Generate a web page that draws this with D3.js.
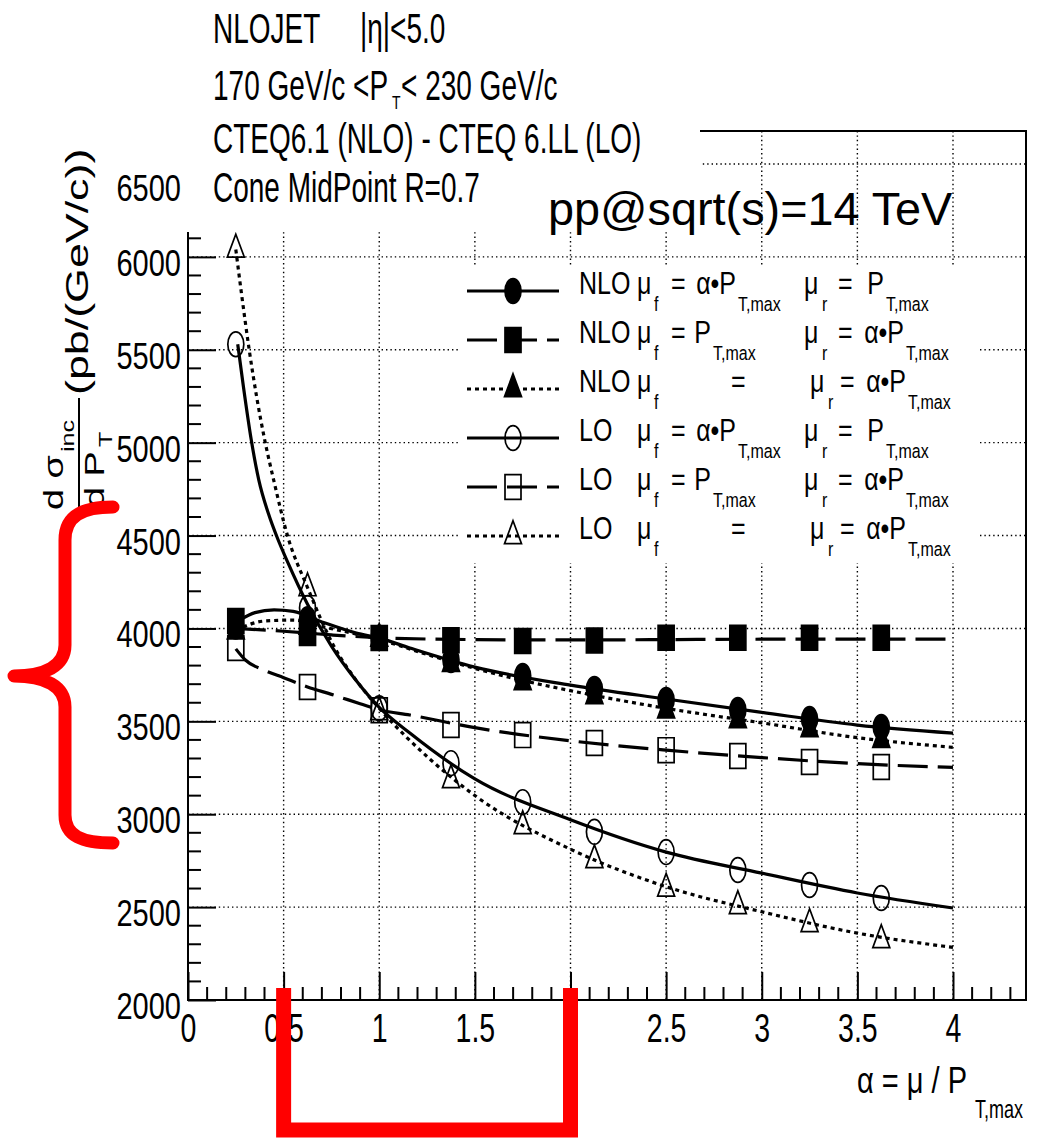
<!DOCTYPE html>
<html>
<head>
<meta charset="utf-8">
<script src="https://cdn.jsdelivr.net/npm/d3@7"></script>
<style>
  html, body { margin: 0; padding: 0; background: #fff; }
  svg { display: block; }
  text { font-family: "Liberation Sans", Arial, Helvetica, sans-serif; fill: #000; }
</style>
</head>
<body>
<svg id="chart" width="1039" height="1144"></svg>
<script>
// ---- scale factor alpha = mu / PT,max at which each point was computed ----
const alpha = [0.25, 0.625, 1.0, 1.375, 1.75, 2.125, 2.5, 2.875, 3.25, 3.625];

// ---- d sigma_inc / d PT (pb/(GeV/c)) at each alpha ----
const nloMuF  = [4010, 4050, 3950, 3830, 3744, 3674, 3615, 3561, 3512, 3469]; // NLO, mu_f = alpha*PT, mu_r = PT
const nloMuR  = [4040, 3975, 3948, 3937, 3932, 3935, 3950, 3950, 3950, 3950]; // NLO, mu_f = PT, mu_r = alpha*PT
const nloBoth = [3985, 4010, 3945, 3810, 3711, 3636, 3560, 3507, 3458, 3400]; // NLO, mu_f = mu_r = alpha*PT
const loMuF   = [5530, 4110, 3570, 3275, 3065, 2905, 2796, 2700, 2619, 2549]; // LO,  mu_f = alpha*PT, mu_r = PT
const loMuR   = [3895, 3685, 3560, 3480, 3426, 3383, 3345, 3313, 3281, 3254]; // LO,  mu_f = PT, mu_r = alpha*PT
const loBoth  = [6040, 4217, 3550, 3184, 2936, 2753, 2600, 2506, 2409, 2323]; // LO,  mu_f = mu_r = alpha*PT

// ---- smooth parametrisations drawn through each set of points ----
const nloMuFCurveX  = [0.27, 0.35, 0.45, 0.55, 0.70, 0.88, 1.0, 1.16, 1.5, 2.0, 2.5, 3.0, 3.5, 4.0];
const nloMuFCurveY  = [4045, 4085, 4100, 4092, 4035, 3975, 3948, 3895, 3792, 3695, 3620, 3548, 3480, 3437];
const nloMuRCurveX  = [0.25, 0.5, 0.75, 1.0, 1.5, 2.0, 2.5, 3.0, 3.5, 4.0];
const nloMuRCurveY  = [4000, 3985, 3965, 3950, 3940, 3938, 3940, 3942, 3943, 3943];
const nloBothCurveX = [0.25, 0.4, 0.55, 0.7, 1.0, 1.25, 1.5, 1.75, 2.0, 2.5, 3.0, 3.5, 4.0];
const nloBothCurveY = [3990, 4040, 4045, 4010, 3940, 3860, 3785, 3720, 3665, 3570, 3492, 3412, 3360];
const loMuFCurveX   = [0.26, 0.29, 0.33, 0.37, 0.42, 0.47, 0.52, 0.625, 0.75, 0.875, 1.0, 1.16, 1.5, 2.0, 2.5, 3.0, 3.5, 4.0];
const loMuFCurveY   = [5530, 5300, 5020, 4800, 4620, 4480, 4360, 4130, 3905, 3725, 3575, 3437, 3190, 2970, 2796, 2683, 2576, 2495];
const loMuRCurveX   = [0.25, 0.3, 0.4, 0.5, 0.625, 0.75, 0.9, 1.0, 1.16, 1.5, 2.0, 2.5, 3.0, 3.5, 4.0];
const loMuRCurveY   = [3890, 3830, 3775, 3735, 3685, 3645, 3595, 3562, 3534, 3466, 3395, 3345, 3305, 3272, 3252];
const loBothCurveX  = [0.25, 0.28, 0.32, 0.36, 0.40, 0.45, 0.52, 0.625, 0.76, 0.88, 1.0, 1.27, 1.51, 2.01, 2.5, 3.0, 3.5, 4.0];
const loBothCurveY  = [6040, 5800, 5500, 5240, 5020, 4790, 4500, 4220, 3910, 3720, 3570, 3292, 3093, 2807, 2610, 2475, 2360, 2283];

// ---- axis ticks ----
const xTicks = [0, 0.5, 1, 1.5, 2, 2.5, 3, 3.5, 4];
const xTickLabels = ["0", "0.5", "1", "1.5", "2", "2.5", "3", "3.5", "4"];
const yTicks = [2000, 2500, 3000, 3500, 4000, 4500, 5000, 5500, 6000, 6500];
const yTickLabels = ["2000", "2500", "3000", "3500", "4000", "4500", "5000", "5500", "6000", "6500"];

// ---- header lines ----
const headerLines = ["NLOJET", "|η|<5.0", "170 GeV/c <P", "T", "< 230 GeV/c",
                     "CTEQ6.1 (NLO) - CTEQ 6.LL (LO)", "Cone MidPoint R=0.7"];

const svg = d3.select("#chart");
const FR = { l: 188, r: 1026, t: 131, b: 1000 };
const x = d3.scaleLinear().domain([0, 4]).range([188, 953]);
const y = d3.scaleLinear().domain([2000, 6500]).range([1000, 164]);

// text helper: the plot's lettering is tall and narrow
function stext(parent, str, px, py, size, sy, anchor) {
  return parent.append("text")
    .attr("transform", `translate(${px},${py}) scale(1,${sy})`)
    .attr("font-size", size)
    .attr("text-anchor", anchor || "start")
    .text(str);
}

// ---- grid ----
const grid = svg.append("g").attr("stroke", "#000").attr("stroke-width", 1.4)
  .attr("stroke-dasharray", "1.4 3").attr("fill", "none");
grid.selectAll("line.gv").data(xTicks.filter(d => d > 0)).join("line").attr("class", "gv")
  .attr("x1", d => x(d)).attr("x2", d => x(d)).attr("y1", FR.t).attr("y2", FR.b);
grid.selectAll("line.gh").data(yTicks.filter(d => d > 2000)).join("line").attr("class", "gh")
  .attr("x1", FR.l).attr("x2", FR.r).attr("y1", d => y(d)).attr("y2", d => y(d));

// ---- minor ticks ----
const xMinor = d3.range(0, 44).map(i => i / 10).filter(v => Math.abs(v * 2 - Math.round(v * 2)) > 1e-6);
const yMinor = d3.range(2000, 6700, 100).filter(v => v % 500 !== 0);
const minor = svg.append("g").attr("stroke", "#000").attr("stroke-width", 2);
minor.selectAll("line.mx").data(xMinor).join("line").attr("class", "mx")
  .attr("x1", d => x(d)).attr("x2", d => x(d)).attr("y1", FR.b).attr("y2", FR.b - 13);
minor.selectAll("line.my").data(yMinor).join("line").attr("class", "my")
  .attr("x1", FR.l).attr("x2", FR.l + 13).attr("y1", d => y(d)).attr("y2", d => y(d));

// ---- major axes ----
const yAxis = d3.axisLeft(y).tickValues(yTicks).tickSizeInner(-28).tickSizeOuter(0)
  .tickPadding(7).tickFormat((d, i) => yTickLabels[i]);
const gy = svg.append("g").attr("transform", `translate(${FR.l},0)`).call(yAxis);
gy.select(".domain").remove();
gy.selectAll(".tick line").attr("stroke", "#000").attr("stroke-width", 2);
gy.selectAll(".tick text")
  .attr("font-size", 29).attr("font-family", null).attr("fill", "#000")
  .attr("x", null).attr("dy", null).attr("y", 0.358 * 29)
  .attr("transform", d => `translate(-7,${d === 6500 ? 23 : 5}) scale(1,1.3)`);

const xAxis = d3.axisBottom(x).tickValues(xTicks).tickSizeInner(-28).tickSizeOuter(0)
  .tickPadding(0).tickFormat((d, i) => xTickLabels[i]);
const gx = svg.append("g").attr("transform", `translate(0,${FR.b})`).call(xAxis);
gx.select(".domain").remove();
gx.selectAll(".tick line").attr("stroke", "#000").attr("stroke-width", 2);
gx.selectAll(".tick text")
  .attr("font-size", 28.5).attr("font-family", null).attr("fill", "#000")
  .attr("x", null).attr("dy", null).attr("y", 0.358 * 28.5)
  .attr("transform", `translate(0,27) scale(1,1.45)`);

// ---- frame ----
svg.append("rect").attr("x", FR.l).attr("y", FR.t).attr("width", FR.r - FR.l).attr("height", FR.b - FR.t)
  .attr("fill", "none").attr("stroke", "#000").attr("stroke-width", 2);

// ---- series ----
const DASH = { solid: null, dashed: "30 10", dotted: "4 4" };
const series = [
  { order: "NLO", kind: "A", vals: nloMuF,  cx: nloMuFCurveX,  cy: nloMuFCurveY,  style: "solid",  shape: d3.symbolCircle,   filled: true },
  { order: "NLO", kind: "B", vals: nloMuR,  cx: nloMuRCurveX,  cy: nloMuRCurveY,  style: "dashed", shape: d3.symbolSquare,   filled: true },
  { order: "NLO", kind: "C", vals: nloBoth, cx: nloBothCurveX, cy: nloBothCurveY, style: "dotted", shape: d3.symbolTriangle, filled: true },
  { order: "LO",  kind: "A", vals: loMuF,   cx: loMuFCurveX,   cy: loMuFCurveY,   style: "solid",  shape: d3.symbolCircle,   filled: false },
  { order: "LO",  kind: "B", vals: loMuR,   cx: loMuRCurveX,   cy: loMuRCurveY,   style: "dashed", shape: d3.symbolSquare,   filled: false },
  { order: "LO",  kind: "C", vals: loBoth,  cx: loBothCurveX,  cy: loBothCurveY,  style: "dotted", shape: d3.symbolTriangle, filled: false }
];
const SYM_SIZE = new Map([[d3.symbolCircle, 201], [d3.symbolSquare, 256], [d3.symbolTriangle, 125]]);
const MSY = 1.55;

function drawMarker(parent, s, px, py) {
  parent.append("path")
    .attr("d", d3.symbol().type(s.shape).size(SYM_SIZE.get(s.shape))())
    .attr("transform", `translate(${px},${py}) scale(1,${MSY})`)
    .attr("fill", s.filled ? "#000" : "none")
    .attr("stroke", "#000").attr("stroke-width", 1.7)
    .attr("vector-effect", "non-scaling-stroke");
}

const lineGen = d3.line().x(d => x(d[0])).y(d => y(d[1])).curve(d3.curveMonotoneX);
const plot = svg.append("g");
series.forEach(s => {
  plot.append("path")
    .attr("d", lineGen(d3.zip(s.cx, s.cy)))
    .attr("fill", "none").attr("stroke", "#000").attr("stroke-width", 3.2)
    .attr("stroke-dasharray", DASH[s.style]);
  alpha.forEach((a, i) => drawMarker(plot, s, x(a), y(s.vals[i])));
});

// ---- header box ----
svg.append("rect").attr("x", 183).attr("y", 0).attr("width", 517).attr("height", 232).attr("fill", "#fff");

const hdr = svg.append("g");
const HS = 28, HSY = 1.5;
stext(hdr, headerLines[0], 213, 43, HS, HSY);
stext(hdr, headerLines[1], 360, 43, HS, HSY);
stext(hdr, headerLines[2], 213, 100, HS, HSY);
stext(hdr, headerLines[3], 392, 109, 14, 1.3);
stext(hdr, headerLines[4], 401, 100, HS, HSY);
stext(hdr, headerLines[5], 213, 153, HS, HSY);
stext(hdr, headerLines[6], 213, 202, HS, HSY);

// ---- energy label ----
svg.append("text").attr("x", 548).attr("y", 225).attr("font-size", 46.8).text("pp@sqrt(s)=14 TeV");

// ---- legend ----
const leg = svg.append("g");
leg.append("rect").attr("x", 460).attr("y", 266).attr("width", 518).attr("height", 297).attr("fill", "#fff");
const LX0 = 579, LS = 25, LSY = 1.28, LSUB = 16;
// [text, offset from the order label, subscript?, anchor]
const legendText = {
  A: [["μ", 58], ["f", 75, 1], ["=", 92], ["α•P", 157, 0, "end"], ["T,max", 159, 1],
      ["μ", 225], ["r", 243, 1], ["=", 259], ["P", 305, 0, "end"], ["T,max", 307, 1]],
  B: [["μ", 58], ["f", 75, 1], ["=", 92], ["P", 132, 0, "end"], ["T,max", 134, 1],
      ["μ", 225], ["r", 243, 1], ["=", 259], ["α•P", 325, 0, "end"], ["T,max", 327, 1]],
  C: [["μ", 58], ["f", 75, 1], ["=", 152],
      ["μ", 231], ["r", 249, 1], ["=", 261], ["α•P", 327, 0, "end"], ["T,max", 329, 1]]
};
series.forEach((s, i) => {
  const ry = 291 + i * 49;
  leg.append("line").attr("x1", 467).attr("x2", 559).attr("y1", ry).attr("y2", ry)
    .attr("stroke", "#000").attr("stroke-width", 3.2).attr("stroke-dasharray", DASH[s.style]);
  drawMarker(leg, s, 513, ry);
  const base = ry + 3;
  stext(leg, s.order, LX0, base, LS, LSY);
  legendText[s.kind].forEach(([t, dx, sub, anchor]) => {
    if (sub) stext(leg, t, LX0 + dx, base + 17, LSUB, LSY);
    else stext(leg, t, LX0 + dx, base, LS, LSY, anchor);
  });
});

// ---- axis titles ----
const xt = svg.append("g");
stext(xt, "α = μ / P", 857, 1093, 29, 1.25);
stext(xt, "T,max", 975, 1118, 18, 1.4);

const yt = svg.append("g");
function rtext(str, bx, by, size, sx) {
  return yt.append("text")
    .attr("transform", `translate(${bx},${by}) rotate(-90) scale(${sx},1)`)
    .attr("font-size", size).text(str);
}
rtext("(pb/(GeV/c))", 88, 395, 32, 1.4);
rtext("d σ", 63, 510, 27, 1.4);
rtext("inc", 74, 452, 18, 1.4);
yt.append("line").attr("x1", 79).attr("x2", 79).attr("y1", 512).attr("y2", 398)
  .attr("stroke", "#000").attr("stroke-width", 2);
rtext("d P", 104, 508, 27, 1.4);
rtext("T", 112, 447, 18, 1.4);

// ---- red annotations ----
const red = svg.append("g").attr("fill", "none").attr("stroke", "#ff0000");
red.append("path")
  .attr("d", "M113,507 C82,507 65,516 65,540 L65,645 C65,666 45,676 14,676 C45,676 65,686 65,707 L65,815 C65,836 82,843 113,843")
  .attr("stroke-width", 13).attr("stroke-linecap", "round").attr("stroke-linejoin", "round");
red.append("path")
  .attr("d", `M${x(0.5)},988 V1130 H${x(2)} V988`)
  .attr("stroke-width", 15).attr("stroke-linejoin", "miter");
</script>
</body>
</html>
